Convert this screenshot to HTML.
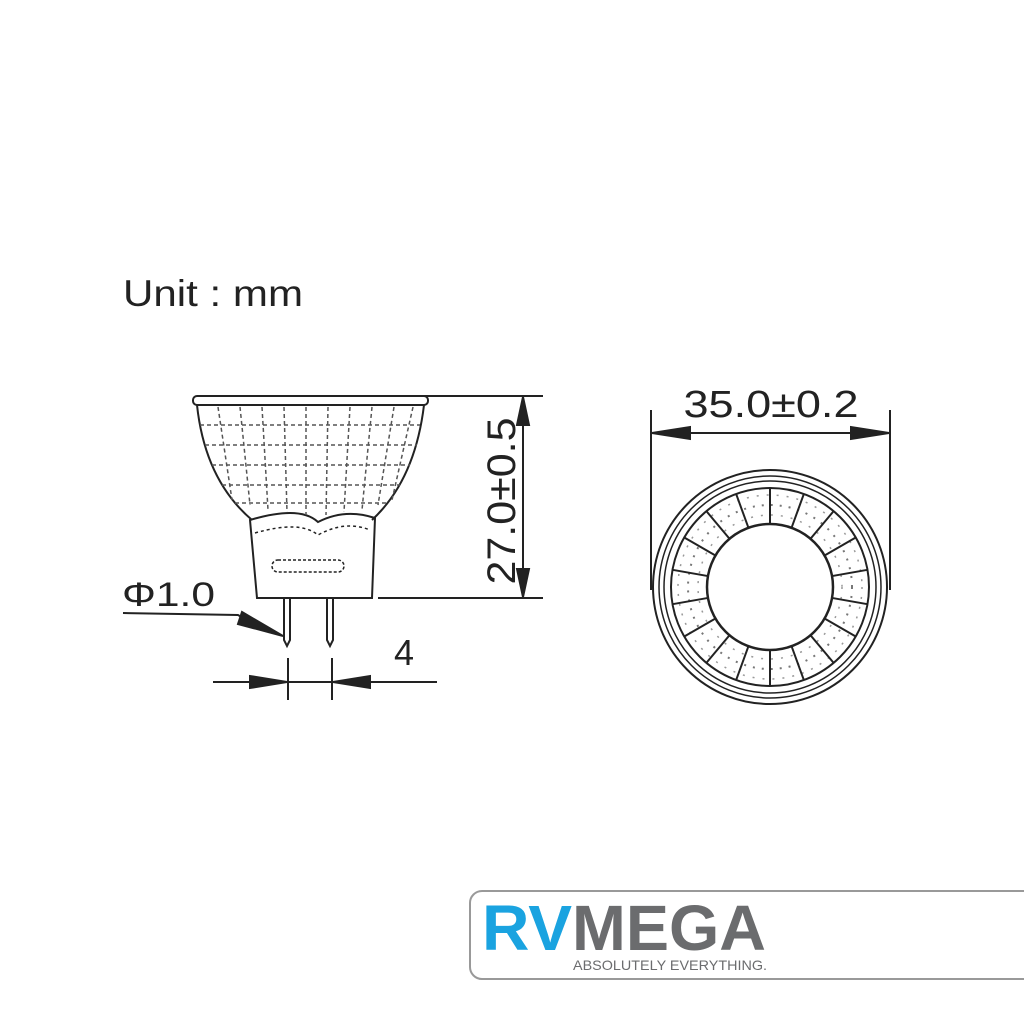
<!DOCTYPE html>
<html><head><meta charset="utf-8"><style>
html,body{margin:0;padding:0;background:#fff;width:1024px;height:1024px;overflow:hidden}
svg{display:block}
</style></head><body>
<svg width="1024" height="1024" viewBox="0 0 1024 1024" xmlns="http://www.w3.org/2000/svg" font-family="Liberation Sans, Arial, sans-serif">
<rect width="1024" height="1024" fill="#fff"/>
<text x="123" y="306" font-size="37" fill="#222" textLength="180" lengthAdjust="spacingAndGlyphs">Unit : mm</text>

<!-- side view bulb -->
<g stroke="#222" stroke-width="2" fill="none">
<rect x="193" y="396" width="235" height="9" rx="4"/>
<path d="M197 405 Q205 480 252 520 M424 405 Q415 480 372 520"/>
<path d="M250 520 Q300 505 318 522 Q345 508 375 518 L372 598 L257 598 Z"/>
<path d="M255 533 Q300 520 318 535 Q345 520 370 530" stroke-dasharray="3 3" stroke-width="1.5"/>
<rect x="272" y="560" width="72" height="12" rx="6" stroke-dasharray="3 2" stroke-width="1.5"/>
<path d="M284 598 V640 L287 646 L290 640 V598 M327 598 V640 L330 646 L333 640 V598"/>
</g>
<g stroke="#555" stroke-width="1.5" stroke-dasharray="4 3" fill="none">
<path d="M200 425 H420 M205 445 H417 M212 465 H410 M222 485 H400 M235 503 H388"/>
<path d="M218 407 L232 500 M240 407 L250 505 M262 407 L268 510 M284 407 L287 512 M306 407 L306 515 M328 407 L326 515 M350 407 L344 512 M372 407 L362 510 M394 407 L378 505 M413 407 L392 500"/>
</g>

<!-- height dim -->
<g stroke="#222" stroke-width="2" fill="#222">
<line x1="376" y1="396" x2="543" y2="396"/>
<line x1="378" y1="598" x2="543" y2="598"/>
<line x1="523" y1="396" x2="523" y2="598"/>
<path d="M523 397 L517 425 L529 425 Z M523 597 L517 569 L529 569 Z"/>
</g>
<text transform="translate(515,501) rotate(-90)" text-anchor="middle" font-size="40" fill="#222" textLength="167" lengthAdjust="spacingAndGlyphs">27.0±0.5</text>

<!-- phi -->
<text x="122" y="606" font-size="34" fill="#222" textLength="93" lengthAdjust="spacingAndGlyphs">Φ1.0</text>
<g stroke="#222" stroke-width="2" fill="#222">
<path d="M123 613 L238 615 L250 622" fill="none"/>
<path d="M283 636 L242 612 L238 624 Z"/>
</g>

<!-- 4 dim -->
<text x="394" y="665" font-size="36" fill="#222">4</text>
<g stroke="#222" stroke-width="2" fill="#222">
<line x1="213" y1="682" x2="437" y2="682"/>
<line x1="288" y1="658" x2="288" y2="700"/>
<line x1="332" y1="658" x2="332" y2="700"/>
<path d="M287 682 L250 676 L250 688 Z M333 682 L370 676 L370 688 Z"/>
</g>

<!-- top view -->
<text x="771" y="417" text-anchor="middle" font-size="38" fill="#222" textLength="175" lengthAdjust="spacingAndGlyphs">35.0±0.2</text>
<g stroke="#222" stroke-width="2" fill="#222">
<line x1="651" y1="410" x2="651" y2="590"/>
<line x1="890" y1="410" x2="890" y2="590"/>
<line x1="651" y1="433" x2="890" y2="433"/>
<path d="M652 433 L690 427 L690 439 Z M889 433 L851 427 L851 439 Z"/>
</g>
<g transform="translate(770,587)" fill="none" stroke="#222">
<circle r="117" stroke-width="2"/>
<circle r="111" stroke-width="1.5"/>
<circle r="106" stroke-width="1.5"/>
<circle r="99" stroke-width="2"/>
<circle r="63" stroke-width="2.5"/>
<circle r="82" stroke="#777" stroke-width="2" stroke-dasharray="2 7"/>
<circle r="72" stroke="#999" stroke-width="1.5" stroke-dasharray="2 8"/>
<circle r="92" stroke="#999" stroke-width="1.5" stroke-dasharray="2 8"/>
<g stroke-width="2">
<line x1="0" y1="-63" x2="0" y2="-99"/>
<line x1="0" y1="-63" x2="0" y2="-99" transform="rotate(20)"/>
<line x1="0" y1="-63" x2="0" y2="-99" transform="rotate(40)"/>
<line x1="0" y1="-63" x2="0" y2="-99" transform="rotate(60)"/>
<line x1="0" y1="-63" x2="0" y2="-99" transform="rotate(80)"/>
<line x1="0" y1="-63" x2="0" y2="-99" transform="rotate(100)"/>
<line x1="0" y1="-63" x2="0" y2="-99" transform="rotate(120)"/>
<line x1="0" y1="-63" x2="0" y2="-99" transform="rotate(140)"/>
<line x1="0" y1="-63" x2="0" y2="-99" transform="rotate(160)"/>
<line x1="0" y1="-63" x2="0" y2="-99" transform="rotate(180)"/>
<line x1="0" y1="-63" x2="0" y2="-99" transform="rotate(200)"/>
<line x1="0" y1="-63" x2="0" y2="-99" transform="rotate(220)"/>
<line x1="0" y1="-63" x2="0" y2="-99" transform="rotate(240)"/>
<line x1="0" y1="-63" x2="0" y2="-99" transform="rotate(260)"/>
<line x1="0" y1="-63" x2="0" y2="-99" transform="rotate(280)"/>
<line x1="0" y1="-63" x2="0" y2="-99" transform="rotate(300)"/>
<line x1="0" y1="-63" x2="0" y2="-99" transform="rotate(320)"/>
<line x1="0" y1="-63" x2="0" y2="-99" transform="rotate(340)"/>
</g>
</g>

<!-- logo -->
<rect x="470" y="891" width="580" height="88" rx="12" fill="#fff" stroke="#999" stroke-width="2"/>
<text x="482" y="950" font-size="64" font-weight="bold" fill="#1aa3e0" textLength="90" lengthAdjust="spacingAndGlyphs">RV</text>
<text x="572" y="950" font-size="64" font-weight="bold" fill="#6b6c6e" textLength="194" lengthAdjust="spacingAndGlyphs">MEGA</text>
<text x="573" y="970" font-size="14" fill="#6b6c6e" textLength="194" lengthAdjust="spacingAndGlyphs">ABSOLUTELY EVERYTHING.</text>
</svg>
</body></html>
